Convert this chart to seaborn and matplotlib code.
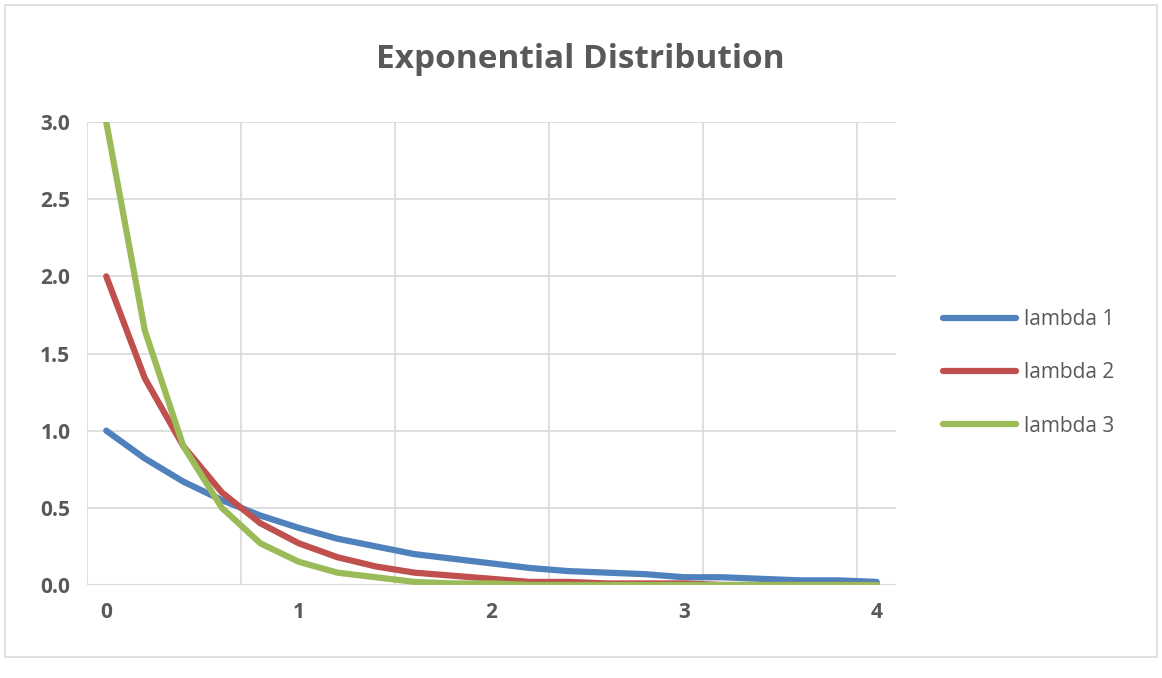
import matplotlib
matplotlib.use("Agg")
import matplotlib.pyplot as plt
import seaborn as sns
import pandas as pd
from matplotlib.patches import Rectangle

x_values = [round(0.2*i, 1) for i in range(21)]
lambda1 = [1.0, 0.82, 0.67, 0.55, 0.45, 0.37, 0.30, 0.25, 0.20, 0.17, 0.14, 0.11, 0.09, 0.08, 0.07, 0.05, 0.05, 0.04, 0.03, 0.03, 0.02]
lambda2 = [2.0, 1.34, 0.90, 0.60, 0.40, 0.27, 0.18, 0.12, 0.08, 0.06, 0.04, 0.02, 0.02, 0.01, 0.01, 0.01, 0.0, 0.0, 0.0, 0.0, 0.0]
lambda3 = [3.0, 1.65, 0.90, 0.50, 0.27, 0.15, 0.08, 0.05, 0.02, 0.01, 0.01, 0.0, 0.0, 0.0, 0.0, 0.0, 0.0, 0.0, 0.0, 0.0, 0.0]
series_names = ["lambda 1", "lambda 2", "lambda 3"]
colors = ["#4F81BD", "#C0504D", "#9BBB59"]
tick_labels = ["0", "1", "2", "3", "4"]

rows = []
for name, vals in zip(series_names, [lambda1, lambda2, lambda3]):
    for i, v in enumerate(vals):
        rows.append({"idx": i, "y": v, "series": name})
df = pd.DataFrame(rows)

sns.set_theme(style="white")
plt.rcParams['font.family'] = ['Open Sans', 'DejaVu Sans']
fig = plt.figure(figsize=(11.62, 6.78), dpi=100)
fig.patches.append(Rectangle((5/1162, 1-657/678), 1152/1162, 652/678, transform=fig.transFigure,
                             fill=False, edgecolor="#D9D9D9", lw=1.2))
ax = fig.add_axes([87/1162, 1-585/678, (896-87)/1162, (585-122)/678])
sns.lineplot(data=df, x="idx", y="y", hue="series", palette=colors, lw=4.5, ax=ax, legend=True)
ax.set_xlim(-0.5, 20.5)
ax.set_ylim(0, 3)
ax.set_yticks([0, 0.5, 1, 1.5, 2, 2.5, 3])
ax.set_yticklabels([f"{v:.1f}" for v in [0, 0.5, 1, 1.5, 2, 2.5, 3]])
ax.set_xticks([0, 5, 10, 15, 20])
ax.set_xticklabels(tick_labels)
for k in range(6):
    ax.axvline(-0.5 + 4*k, color="#D9D9D9", lw=1.2, zorder=0)
for yv in [0.5, 1, 1.5, 2, 2.5, 3]:
    ax.axhline(yv, color="#D9D9D9", lw=1.2, zorder=0)
for s in ax.spines.values():
    s.set_visible(False)
ax.axhline(0, color="#D9D9D9", lw=1.5, zorder=0)
ax.tick_params(length=0, labelsize=15, colors="#595959", pad=12)
for t in ax.get_xticklabels() + ax.get_yticklabels():
    t.set_fontweight("bold")
ax.set_xlabel(""); ax.set_ylabel("")
fig.text(580/1162, 1-60/678, "Exponential Distribution", ha="center", va="center",
         fontsize=24, fontweight="bold", color="#595959")
leg = ax.legend(loc="center left", bbox_to_anchor=(1.035, 0.458), frameon=False, fontsize=15,
                handlelength=3.5, handletextpad=0.4, labelspacing=1.55)
for t in leg.get_texts():
    t.set_color("#595959")
fig.savefig("out.png", dpi=100)
